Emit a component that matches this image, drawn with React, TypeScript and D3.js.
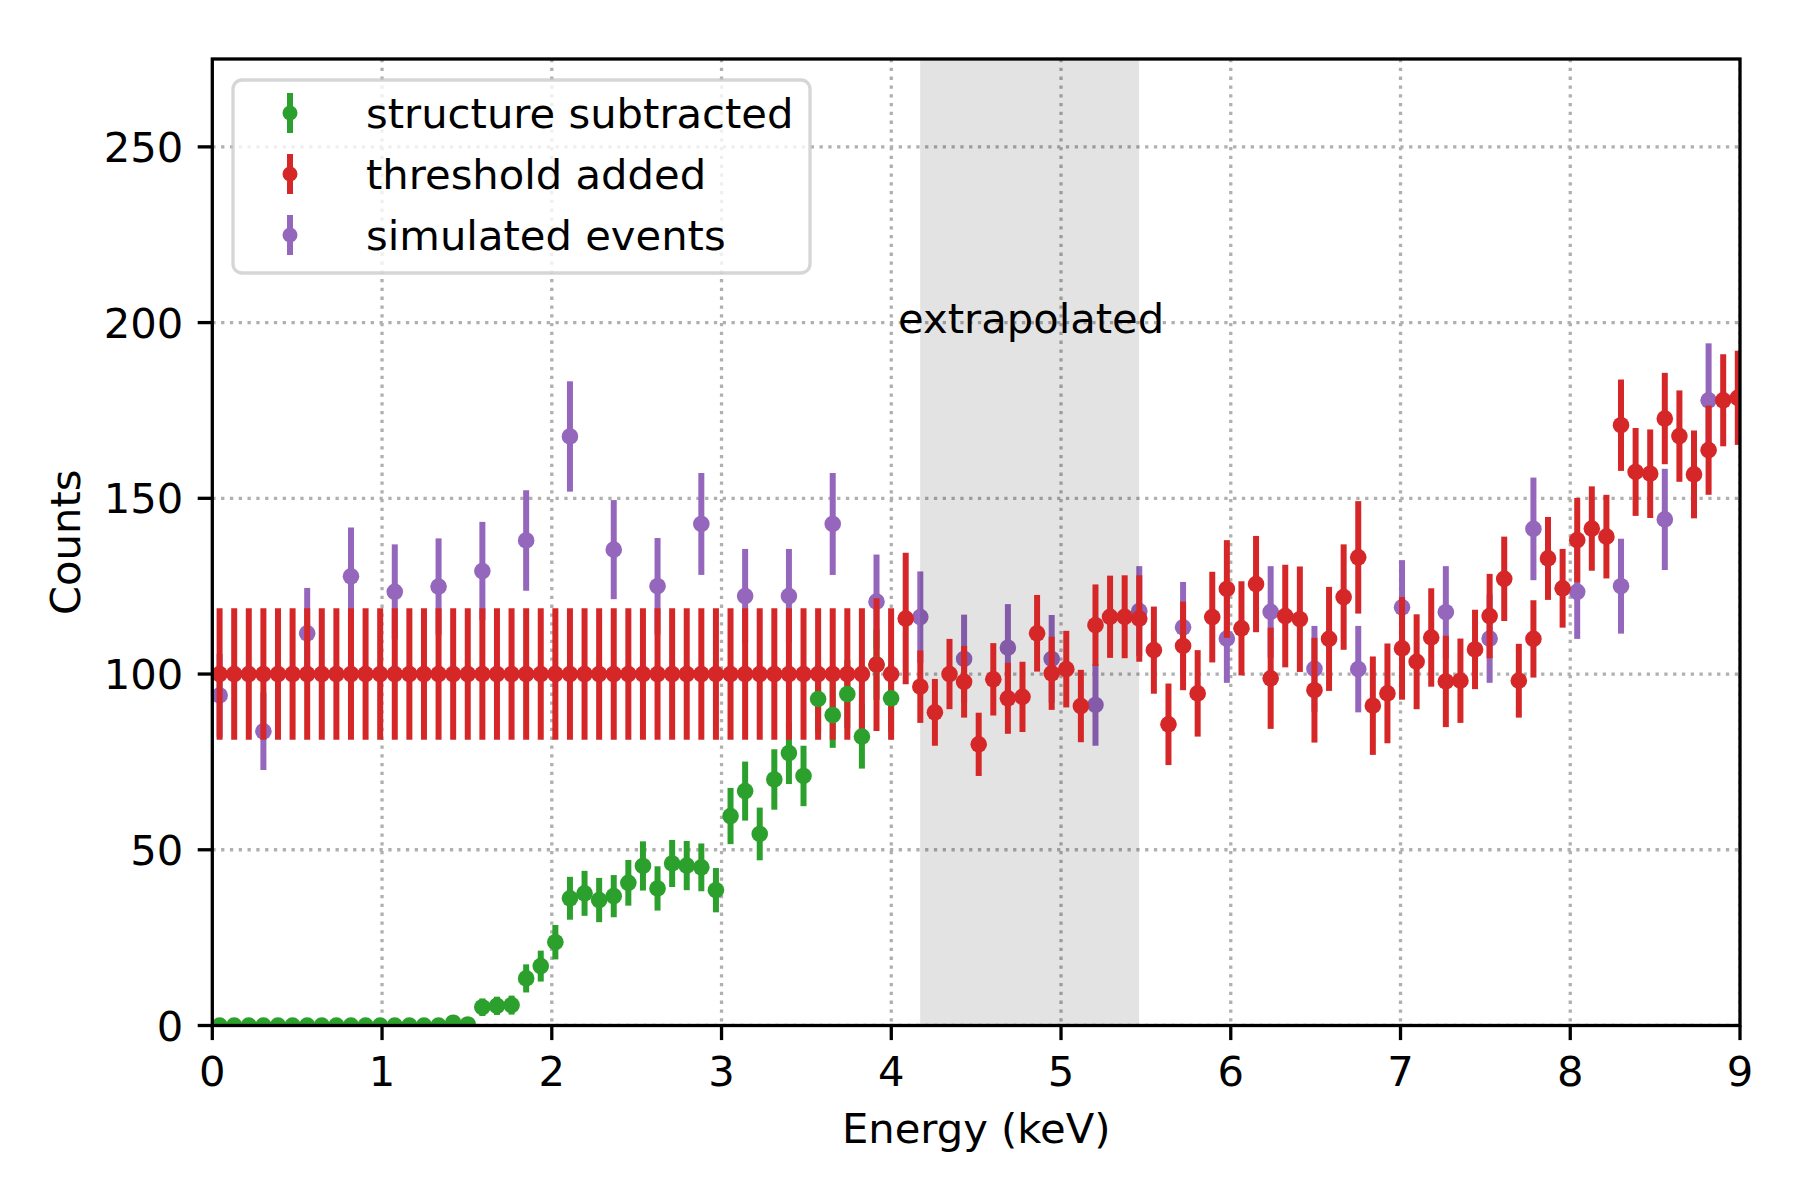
import { range, scaleLinear } from 'd3';

// energy bins (keV)
const binWidth = 0.086;
const binCount = 105;

// "threshold added" — every bin
const thresholdCounts = [
  100, 100, 100, 100, 100, 100, 100, 100, 100, 100,
  100, 100, 100, 100, 100, 100, 100, 100, 100, 100,
  100, 100, 100, 100, 100, 100, 100, 100, 100, 100,
  100, 100, 100, 100, 100, 100, 100, 100, 100, 100,
  100, 100, 100, 100, 100, 102.7, 100, 115.8, 96.4, 89.1,
  100, 97.8, 80, 98.5, 93.1, 93.5, 111.6, 100.2, 101.4, 90.9,
  113.9, 116.3, 116.3, 115.8, 106.8, 85.7, 108, 94.5, 116.2, 124.2,
  113, 125.6, 98.8, 116.5, 115.6, 95.4, 110, 121.9, 133.2, 91,
  94.5, 107.3, 103.5, 110.4, 97.9, 98.1, 107, 116.5, 127.1, 98.1,
  110, 132.9, 124.4, 138.1, 141.4, 139.1, 170.8, 157.5, 157, 172.7,
  167.7, 156.8, 163.7, 177.9, 178.6,
];
const thresholdErrors = [
  18.7, 18.7, 18.7, 18.7, 18.7, 18.7, 18.7, 18.7, 18.7, 18.7,
  18.7, 18.7, 18.7, 18.7, 18.7, 18.7, 18.7, 18.7, 18.7, 18.7,
  18.7, 18.7, 18.7, 18.7, 18.7, 18.7, 18.7, 18.7, 18.7, 18.7,
  18.7, 18.7, 18.7, 18.7, 18.7, 18.7, 18.7, 18.7, 18.7, 18.7,
  18.7, 18.7, 18.7, 18.7, 18.7, 18.9, 18.7, 18.7, 10.3, 9.5,
  10, 10.2, 9, 10.3, 10.1, 10, 10.9, 10.4, 10.9, 10.3,
  11.6, 11.7, 11.8, 12.3, 12.4, 11.6, 12.6, 12.3, 12.9, 13.9,
  13.4, 13.7, 14.4, 14.6, 15, 14.9, 14.8, 15, 16, 14,
  14.2, 14.6, 13.5, 14, 13, 12, 11.3, 12, 12, 10.5,
  11, 11.8, 11.2, 12, 12, 11.9, 13, 12.5, 12.6, 13,
  13, 12.5, 12.7, 13.1, 13.4,
];

// "structure subtracted" — first 47 bins
const structureCounts = [
  0, 0, 0, 0, 0, 0, 0, 0, 0, 0,
  0, 0, 0, 0, 0, 0, 0.8, 0.3, 5.2, 5.6,
  5.8, 13.4, 16.9, 23.7, 36.2, 37.6, 35.7, 36.8, 40.6, 45.4,
  39, 46.1, 45.5, 45, 38.5, 59.6, 66.7, 54.5, 70, 77.5,
  71, 92.9, 88.3, 94.3, 82.2, 102.7, 93.1,
];
const structureErrors = [
  0, 0, 0, 0, 0, 0, 0, 0, 0, 0,
  0, 0, 0, 0, 0, 0, 0.9, 0.6, 2.5, 2.6,
  2.7, 4, 4.4, 4.9, 6.1, 6.4, 6.3, 6, 6.5, 7,
  6.3, 6.7, 7, 6.8, 6.3, 8, 8.4, 7.5, 8.6, 8.8,
  8.6, 9.6, 9.3, 9.7, 9.1, 10, 9.6,
];

// "simulated events" — every third bin
const simulatedStride = 3;
const simulatedCounts = [
  93.9, 83.7, 111.6, 127.8, 123.4, 124.9, 129.3, 138, 167.6, 135.4,
  125, 142.7, 122.2, 122.2, 142.7, 120.6, 116.2, 104.3, 107.5, 104.3,
  91.2, 117.9, 113.3, 110.1, 117.7, 101.5, 101.4, 119, 117.6, 110.1,
  141.3, 123.4, 125, 144, 177.9,
];
const simulatedErrors = [
  11.8, 11, 12.9, 13.9, 13.5, 13.7, 14, 14.3, 15.7, 14.1,
  13.7, 14.5, 13.4, 13.4, 14.5, 13.4, 13, 12.6, 12.4, 12.5,
  11.6, 12.8, 12.9, 12.6, 13, 12.2, 12.3, 13.4, 13.1, 12.6,
  14.6, 13.4, 13.5, 14.4, 16.2,
];

const xTicks = [0, 1, 2, 3, 4, 5, 6, 7, 8, 9];
const yTicks = [0, 50, 100, 150, 200, 250];
const extrapolatedRange = [4.17, 5.46];

const GREEN = '#2ca02c';
const RED = '#d62728';
const PURPLE = '#9467bd';
const FONT = '"DejaVu Sans", Verdana, sans-serif';

interface Point {
  e: number;
  v: number;
  err: number;
}

const binCentres = range(binCount).map((i) => (i + 0.5) * binWidth);

const thresholdPoints: Point[] = thresholdCounts.map((v, i) => ({
  e: binCentres[i],
  v,
  err: thresholdErrors[i],
}));
const structurePoints: Point[] = structureCounts.map((v, i) => ({
  e: binCentres[i],
  v,
  err: structureErrors[i],
}));
const simulatedPoints: Point[] = simulatedCounts.map((v, i) => ({
  e: binCentres[i * simulatedStride],
  v,
  err: simulatedErrors[i],
}));

export default function App() {
  const width = 1800;
  const height = 1200;
  const left = 212.3;
  const right = 1740;
  const top = 59;
  const bottom = 1025.5;

  const x = scaleLinear().domain([0, 9]).range([left, right]);
  const y = scaleLinear().domain([0, 275]).range([bottom, top]);

  const barWidth = 6;
  const markerR = 8.3;

  const bars = (pts: Point[], color: string, key: string) =>
    pts
      .filter((p) => p.err > 0)
      .map((p, i) => (
        <line
          key={`${key}-b-${i}`}
          x1={x(p.e)}
          x2={x(p.e)}
          y1={y(p.v - p.err)}
          y2={y(p.v + p.err)}
          stroke={color}
          strokeWidth={barWidth}
        />
      ));

  const markers = (pts: Point[], color: string, key: string) =>
    pts.map((p, i) => (
      <circle key={`${key}-m-${i}`} cx={x(p.e)} cy={y(p.v)} r={markerR} fill={color} />
    ));

  const legendItems = [
    { label: 'structure subtracted', color: GREEN },
    { label: 'threshold added', color: RED },
    { label: 'simulated events', color: PURPLE },
  ];

  return (
    <div style={{ position: 'absolute', left: 0, top: 0 }}>
      <svg width={width} height={height} viewBox={`0 0 ${width} ${height}`} style={{ display: 'block', background: '#fff' }}>
        <defs>
          <clipPath id="plot-area">
            <rect x={left} y={top} width={right - left} height={bottom - top} />
          </clipPath>
        </defs>

        <g clipPath="url(#plot-area)">
          {/* grid */}
          {xTicks.map((t) => (
            <line
              key={`gx-${t}`}
              x1={x(t)}
              x2={x(t)}
              y1={top}
              y2={bottom}
              stroke="#b0b0b0"
              strokeWidth={3.3}
              strokeDasharray="3.3 5.5"
            />
          ))}
          {yTicks.map((t) => (
            <line
              key={`gy-${t}`}
              x1={left}
              x2={right}
              y1={y(t)}
              y2={y(t)}
              stroke="#b0b0b0"
              strokeWidth={3.3}
              strokeDasharray="3.3 5.5"
            />
          ))}

          {/* simulated events sit beneath the shading */}
          {bars(simulatedPoints, PURPLE, 'sim')}
          {markers(simulatedPoints, PURPLE, 'sim')}

          <rect
            x={x(extrapolatedRange[0])}
            y={top}
            width={x(extrapolatedRange[1]) - x(extrapolatedRange[0])}
            height={bottom - top}
            fill="#000"
            fillOpacity={0.11}
          />

          {bars(structurePoints, GREEN, 'str')}
          {bars(thresholdPoints, RED, 'thr')}
          {markers(structurePoints, GREEN, 'str')}
          {markers(thresholdPoints, RED, 'thr')}
        </g>

        <text x={x(4.04)} y={y(197)} fontFamily={FONT} fontSize={41.7} fill="#000">
          extrapolated
        </text>

        {/* spines */}
        <rect
          x={left}
          y={top}
          width={right - left}
          height={bottom - top}
          fill="none"
          stroke="#000"
          strokeWidth={3.3}
        />

        {/* x axis */}
        {xTicks.map((t) => (
          <g key={`xt-${t}`}>
            <line x1={x(t)} x2={x(t)} y1={bottom} y2={bottom + 14.6} stroke="#000" strokeWidth={3.3} />
            <text
              x={x(t)}
              y={bottom + 60}
              textAnchor="middle"
              fontFamily={FONT}
              fontSize={41.7}
              fill="#000"
            >
              {t}
            </text>
          </g>
        ))}
        <text x={(left + right) / 2} y={1143} textAnchor="middle" fontFamily={FONT} fontSize={41.7} fill="#000">
          Energy (keV)
        </text>

        {/* y axis */}
        {yTicks.map((t) => (
          <g key={`yt-${t}`}>
            <line x1={left - 14.6} x2={left} y1={y(t)} y2={y(t)} stroke="#000" strokeWidth={3.3} />
            <text
              x={left - 29}
              y={y(t) + 15}
              textAnchor="end"
              fontFamily={FONT}
              fontSize={41.7}
              fill="#000"
            >
              {t}
            </text>
          </g>
        ))}
        <text
          transform={`translate(80, ${(top + bottom) / 2}) rotate(-90)`}
          textAnchor="middle"
          fontFamily={FONT}
          fontSize={41.7}
          fill="#000"
        >
          Counts
        </text>

        {/* legend */}
        <g>
          <rect
            x={233}
            y={80}
            width={577}
            height={193}
            rx={9}
            fill="#fff"
            fillOpacity={0.8}
            stroke="#cccccc"
            strokeOpacity={0.8}
            strokeWidth={3.3}
          />
          {legendItems.map((item, i) => {
            const cy = 113 + i * 61;
            return (
              <g key={item.label}>
                <line x1={290} x2={290} y1={cy - 20} y2={cy + 20} stroke={item.color} strokeWidth={barWidth} />
                <circle cx={290} cy={cy} r={7.5} fill={item.color} />
                <text x={366} y={cy + 15} fontFamily={FONT} fontSize={41.7} fill="#000">
                  {item.label}
                </text>
              </g>
            );
          })}
        </g>
      </svg>
    </div>
  );
}
